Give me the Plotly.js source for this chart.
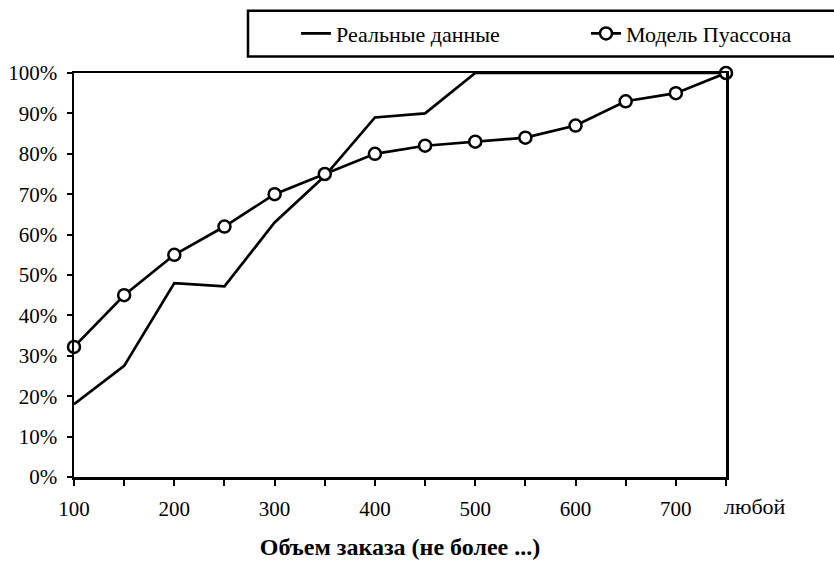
<!DOCTYPE html>
<html>
<head>
<meta charset="utf-8">
<script src="https://cdn.plot.ly/plotly-3.0.1.min.js"></script>
<style>html,body{margin:0;padding:0;background:#fff;}#chart{width:834px;height:565px;}</style>
</head>
<body>
<div id="chart"></div>
<script>
// Data
const categories = ['100','150','200','250','300','350','400','450','500','550','600','650','700','любой'];
const tickLabels = ['100','','200','','300','','400','','500','','600','','700',''];
const realData = [0.18, 0.275, 0.48, 0.472, 0.63, 0.745, 0.89, 0.90, 1.00, 1.00, 1.00, 1.00, 1.00, 1.00];
const poissonModel = [0.322, 0.45, 0.55, 0.62, 0.70, 0.75, 0.80, 0.82, 0.83, 0.84, 0.87, 0.93, 0.95, 1.00];
const seriesNames = ['Реальные данные', 'Модель Пуассона'];
const xTitle = 'Объем заказа (не более ...)';

const L = 74, R = 726, T = 72.5, B = 477.5, W = 834, H = 565;
const px = v => (v - L) / (R - L);
const py = v => (B - v) / (B - T);
const font = '"Liberation Serif", "Times New Roman", serif';

const traces = [
  {x: categories, y: realData, name: seriesNames[0], type: 'scatter', mode: 'lines',
   line: {color: '#000', width: 2.7}, cliponaxis: false, legend: 'legend'},
  {x: categories, y: poissonModel, name: seriesNames[1], type: 'scatter', mode: 'lines+markers',
   line: {color: '#000', width: 2.7},
   marker: {symbol: 'circle', size: 12, color: '#fff', line: {color: '#000', width: 2.5}},
   cliponaxis: false, legend: 'legend2'}
];

const layout = {
  width: W, height: H,
  margin: {l: L, r: W - R, t: T, b: H - B},
  paper_bgcolor: '#fff', plot_bgcolor: '#fff',
  font: {family: font, size: 21, color: '#000'},
  showlegend: true,
  xaxis: {
    type: 'category', categoryorder: 'array', categoryarray: categories,
    range: [0, categories.length - 1],
    tickmode: 'array', tickvals: categories, ticktext: tickLabels,
    ticks: 'outside', ticklen: 6, tickwidth: 2, tickcolor: '#000',
    showline: true, linewidth: 2.5, linecolor: '#000', mirror: true,
    showgrid: false, zeroline: false,
    ticklabelstandoff: 5,
    tickfont: {family: font, size: 21, color: '#000'},
    title: {text: '<b>' + xTitle + '</b>', font: {family: font, size: 24, color: '#000'}, standoff: 19}
  },
  yaxis: {
    range: [0, 1], dtick: 0.1, tick0: 0, tickformat: '.0%',
    ticks: 'outside', ticklen: 5, tickwidth: 2, tickcolor: '#000',
    showline: true, linewidth: 2.5, linecolor: '#000', mirror: true,
    showgrid: false, zeroline: false,
    ticklabelstandoff: 5,
    tickfont: {family: font, size: 21, color: '#000'}
  },
  legend: {
    orientation: 'h', x: px(296), xanchor: 'left', y: py(33), yanchor: 'middle',
    bgcolor: 'rgba(0,0,0,0)', borderwidth: 0,
    font: {family: font, size: 22, color: '#000'}
  },
  legend2: {
    orientation: 'h', x: px(586), xanchor: 'left', y: py(33), yanchor: 'middle',
    bgcolor: 'rgba(0,0,0,0)', borderwidth: 0,
    font: {family: font, size: 22, color: '#000'}
  },
  shapes: [
    {type: 'rect', xref: 'paper', yref: 'paper', x0: px(248), x1: px(845), y0: py(56), y1: py(10),
     line: {color: '#000', width: 2.5}, fillcolor: 'rgba(0,0,0,0)', layer: 'below'}
  ],
  annotations: [
    {x: categories[categories.length - 1], xref: 'x', y: 0, yref: 'paper', yanchor: 'top', xanchor: 'left',
     text: categories[categories.length - 1], showarrow: false, yshift: -15, xshift: -4,
     font: {family: font, size: 22, color: '#000'}}
  ]
};

Plotly.newPlot('chart', traces, layout, {displayModeBar: false, staticPlot: true});
</script>
</body>
</html>
